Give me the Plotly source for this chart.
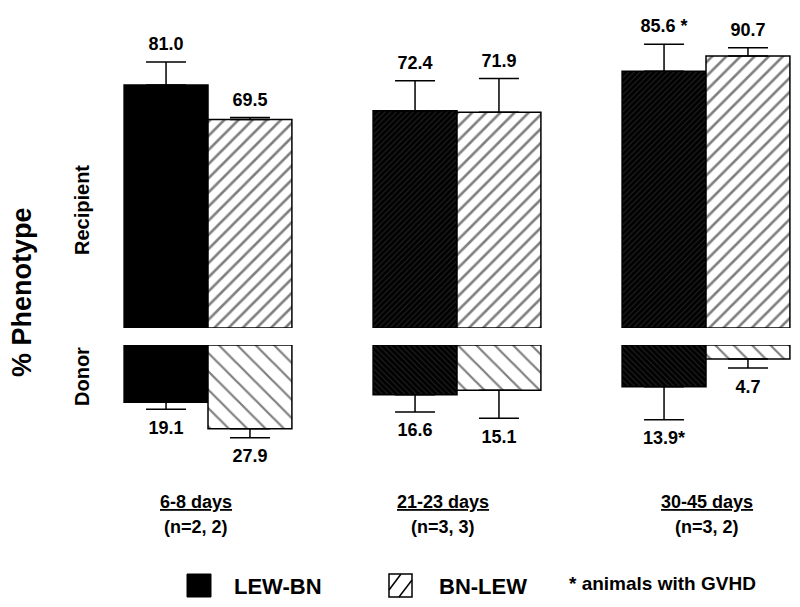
import plotly.graph_objects as go

# groups (time after transplant) and animal counts
groups = ["6-8 days", "21-23 days", "30-45 days"]
n_counts = ["(n=2, 2)", "(n=3, 3)", "(n=3, 2)"]

# % recipient phenotype
rec_lew = [81.0, 72.4, 85.6]
rec_lew_err = [7.7, 10.0, 9.0]
rec_bn = [69.5, 71.9, 90.7]
rec_bn_err = [0.7, 11.3, 2.7]

# % donor phenotype
don_lew = [19.1, 16.6, 13.9]
don_lew_err = [2.3, 5.7, 11.0]
don_bn = [27.9, 15.1, 4.7]
don_bn_err = [3.0, 9.3, 3.0]

# groups where LEW-BN animals had GVHD
gvhd_rec = ["", "", " *"]
gvhd_don = ["", "", "*"]

# page body has an 8px margin, so the figure sits 8px in from the window corner
W, H = 800, 607
L, R, T, B = 82, 13, 20, 150
PW, PH = W - L - R, H - T - B


def px(x):
    # window pixel -> paper
    return (x - 90) / PW


def py(y):
    return (465 - y) / PH


FONT = "Arial, Liberation Sans, sans-serif"
bw = 0.337
xs = list(range(len(groups)))
err_style = dict(type="data", symmetric=False, color="black", thickness=1.5, width=20)

fig = go.Figure()


def bars(vals, err, yaxis, dark, shape, size, solid):
    if dark:
        marker = dict(color="black", line=dict(color="black", width=1.5),
                      pattern=dict(shape=["", shape, shape], fgcolor="#4a4a4a",
                                   size=size, solidity=solid))
        offset = -bw
    else:
        marker = dict(color="white", line=dict(color="black", width=1.5),
                      pattern=dict(shape=shape, fgcolor="black", bgcolor="white",
                                   size=size, solidity=solid))
        offset = 0
    fig.add_trace(go.Bar(x=xs, y=vals, width=bw, offset=offset, yaxis=yaxis,
                         marker=marker, showlegend=False,
                         error_y=dict(array=err, arrayminus=[0] * len(err), **err_style)))


def labels(vals, err, marks, yaxis, dark, pos, pad):
    shift = -bw / 2 if dark else bw / 2
    fig.add_trace(go.Scatter(
        x=[x + shift for x in xs], y=[v + e for v, e in zip(vals, err)],
        text=[f"<b>{v:.1f}{m}</b>" for v, m in zip(vals, marks)],
        mode="markers+text", textposition=pos, yaxis=yaxis, showlegend=False,
        marker=dict(size=pad, color="rgba(0,0,0,0)"),
        textfont=dict(family=FONT, size=18, color="black"), cliponaxis=False))


bars(rec_lew, rec_lew_err, "y", True, "/", 4, 0.25)
bars(rec_bn, rec_bn_err, "y", False, "/", 10, 0.26)
bars(don_lew, don_lew_err, "y2", True, "\\", 4, 0.25)
bars(don_bn, don_bn_err, "y2", False, "\\", 13, 0.17)

labels(rec_lew, rec_lew_err, gvhd_rec, "y", True, "top center", 10)
labels(rec_bn, rec_bn_err, ["", "", ""], "y", False, "top center", 10)
labels(don_lew, don_lew_err, gvhd_don, "y2", True, "bottom center", 16)
labels(don_bn, don_bn_err, ["", "", ""], "y2", False, "bottom center", 16)

hidden = dict(showgrid=False, zeroline=False, showticklabels=False, showline=False, ticks="")
x0 = -(208 - 90) / 249
fig.update_layout(
    width=W, height=H, margin=dict(l=L, r=R, t=T, b=B),
    paper_bgcolor="white", plot_bgcolor="white", barmode="overlay",
    xaxis=dict(range=[x0, x0 + PW / 249], **hidden),
    yaxis=dict(domain=[py(328), 1], range=[0, 100], **hidden),
    yaxis2=dict(domain=[0, py(345)], range=[40, 0], **hidden),
    font=dict(family=FONT, color="black"),
)

ann = []
# axis titles
ann.append(dict(x=px(22), y=py(292), text="<b>% Phenotype</b>", textangle=-90,
                font=dict(size=27)))
ann.append(dict(x=px(82), y=py(210), text="<b>Recipient</b>", textangle=-90,
                font=dict(size=20)))
ann.append(dict(x=px(82), y=py(377), text="<b>Donor</b>", textangle=-90,
                font=dict(size=20)))
# group labels
for g, n, cx in zip(groups, n_counts, [196, 443, 707]):
    ann.append(dict(x=px(cx), y=py(502), text=f"<b><u>{g}</u></b>", font=dict(size=18)))
    ann.append(dict(x=px(cx), y=py(527), text=f"<b>{n}</b>", font=dict(size=18)))
# legend text
ann.append(dict(x=px(232), y=py(586), text="<b>LEW-BN</b>", xanchor="left", font=dict(size=22)))
ann.append(dict(x=px(437), y=py(586), text="<b>BN-LEW</b>", xanchor="left", font=dict(size=22)))
ann.append(dict(x=px(567), y=py(583), text="<b>* animals with GVHD</b>", xanchor="left",
                font=dict(size=19)))
for a in ann:
    a.update(xref="paper", yref="paper", showarrow=False)
    a.setdefault("xanchor", "center")
    a["yanchor"] = "middle"
    a["font"].update(family=FONT, color="black")
fig.update_layout(annotations=ann)

# legend swatches
shp = [
    dict(type="rect", x0=px(187), x1=px(211), y0=py(597), y1=py(574),
         fillcolor="black", line=dict(color="black", width=1)),
    dict(type="rect", x0=px(389), x1=px(412), y0=py(597), y1=py(574),
         fillcolor="white", line=dict(color="black", width=1.5)),
    dict(type="line", x0=px(389), x1=px(401), y0=py(590), y1=py(574),
         line=dict(color="black", width=1.5)),
    dict(type="line", x0=px(399), x1=px(412), y0=py(597), y1=py(580),
         line=dict(color="black", width=1.5)),
]
for s in shp:
    s.update(xref="paper", yref="paper")
fig.update_layout(shapes=shp)

fig.write_html("out.html")
